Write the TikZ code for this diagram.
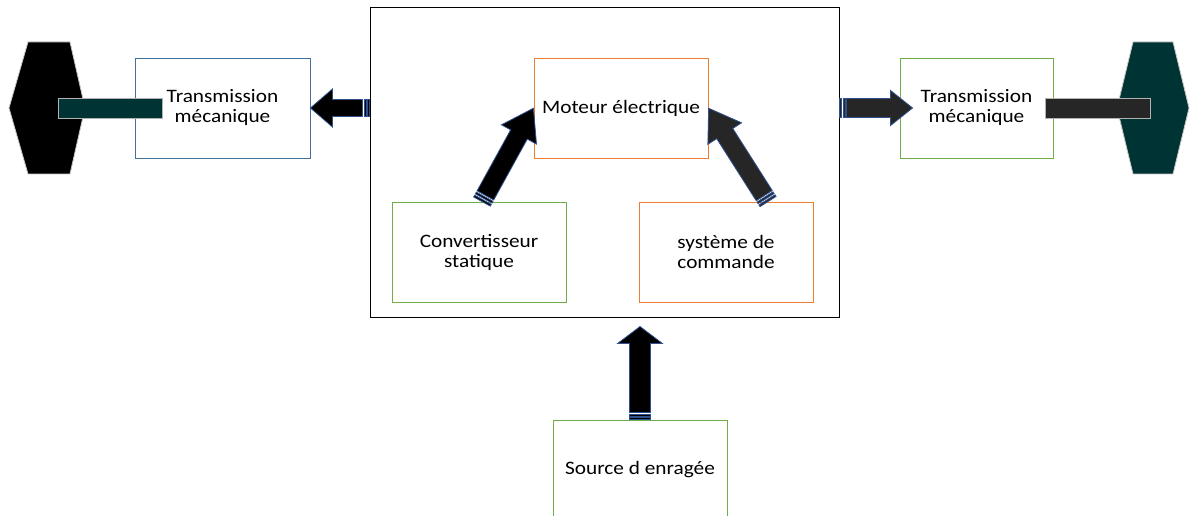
\documentclass[tikz,border=0pt]{standalone}
\usepackage{fontspec}
\setmainfont{Carlito}[FakeStretch=1.12]
\usepackage{tikz}
\usetikzlibrary{positioning, calc}
\usepackage{xcolor}

\definecolor{boxblue}{HTML}{41719C}
\definecolor{boxgreen}{HTML}{70AD47}
\definecolor{boxorange}{HTML}{ED7D31}
\definecolor{arrowline}{HTML}{2F528F}
\definecolor{darkteal}{HTML}{003333}
\definecolor{shaftgray}{HTML}{262626}

% striped block arrow: [fill]{tail}{tip}{shaft half}{head half}{head length}
\newcommand{\stripearrow}[6][black]{%
  \path let \p1=($(#3)-(#2)$) in \pgfextra{%
    \pgfmathsetmacro\arrang{atan2(\y1,\x1)}\global\let\arrang\arrang
    \pgfmathsetmacro\arrlen{veclen(\x1,\y1)}\global\let\arrlen\arrlen};
  \begin{scope}[shift={(#2)}, rotate=\arrang]
    \filldraw[arrowbody, fill=#1] (7,-#4) -- ({\arrlen-#6},-#4) -- ({\arrlen-#6},-#5) -- (\arrlen,0)
      -- ({\arrlen-#6},#5) -- ({\arrlen-#6},#4) -- (7,#4) -- cycle;
    \filldraw[arrowbody, fill=#1] (0,-#4) rectangle (2,#4);
    \filldraw[arrowbody, fill=#1] (3.5,-#4) rectangle (5.5,#4);
  \end{scope}}

\begin{document}
\begin{tikzpicture}[x=1pt, y=1pt,
        block/.style={rectangle, draw, line width=0.9pt, minimum width=174pt, minimum height=100pt, inner sep=0pt, align=center, font=\fontsize{19}{20}\selectfont},
        arrowbody/.style={draw=arrowline, line width=0.8pt, line join=miter},
        shaft/.style={draw=gray!60, line width=0.8pt},
        gear/.style={draw=gray!45, line width=0.8pt}
    ]
    \useasboundingbox (0,0) rectangle (1190,516);

    % Frame and inner blocks
    \node[draw, line width=1pt, minimum width=469pt, minimum height=310pt, inner sep=0pt] (frame) at (604.5,353) {};
    \node[block, draw=boxorange] (moteur) at (621,408) {Moteur électrique};
    \node[block, draw=boxgreen] (conv) at (479,264) {Convertisseur\\statique};
    \node[block, draw=boxorange] (cmd) at (726,264) {système de\\commande};

    % Outer blocks
    \node[block, draw=boxblue, minimum width=175pt] (transL) at (222.5,408) {Transmission\\mécanique};
    \node[block, draw=boxgreen, minimum width=153pt] (transR) at (976.5,408) {Transmission\\mécanique};
    \node[block, draw=boxgreen] (source) at (640,46) {Source d enragée};

    % Wheels and shafts
    \draw[gear, fill=black] (28,474) -- (70,474) -- (85,408) -- (70,342) -- (28,342) -- (9,408) -- cycle;
    \draw[shaft, fill=darkteal] (58,398) rectangle (162,418);
    \draw[gear, fill=darkteal] (1133,474) -- (1173,474) -- (1189,408) -- (1173,342) -- (1133,342) -- (1117,408) -- cycle;
    \draw[shaft, fill=shaftgray] (1045,398) rectangle (1150,418);

    % Connections
    \coordinate (lTail) at (frame.west |- transL.east);
    \coordinate (rTail) at (frame.east |- transR.west);
    \coordinate (rTip) at ($(transR.west)+(13,0)$);
    \coordinate (cTail) at ($(conv.north)+(3,0)$);
    \coordinate (sTail) at ($(cmd.north)+(42,0)$);
    \coordinate (bTip) at ($(source.north)+(0,93)$);
    \stripearrow{lTail}{transL.east}{8.5}{19}{22}
    \stripearrow[shaftgray]{rTail}{rTip}{9.5}{17.5}{22}
    \stripearrow{cTail}{moteur.west}{9.5}{20}{30}
    \stripearrow[shaftgray]{sTail}{moteur.east}{9.5}{20}{30}
    \stripearrow{source.north}{bTip}{10.5}{22.5}{17}

\end{tikzpicture}
\end{document}
